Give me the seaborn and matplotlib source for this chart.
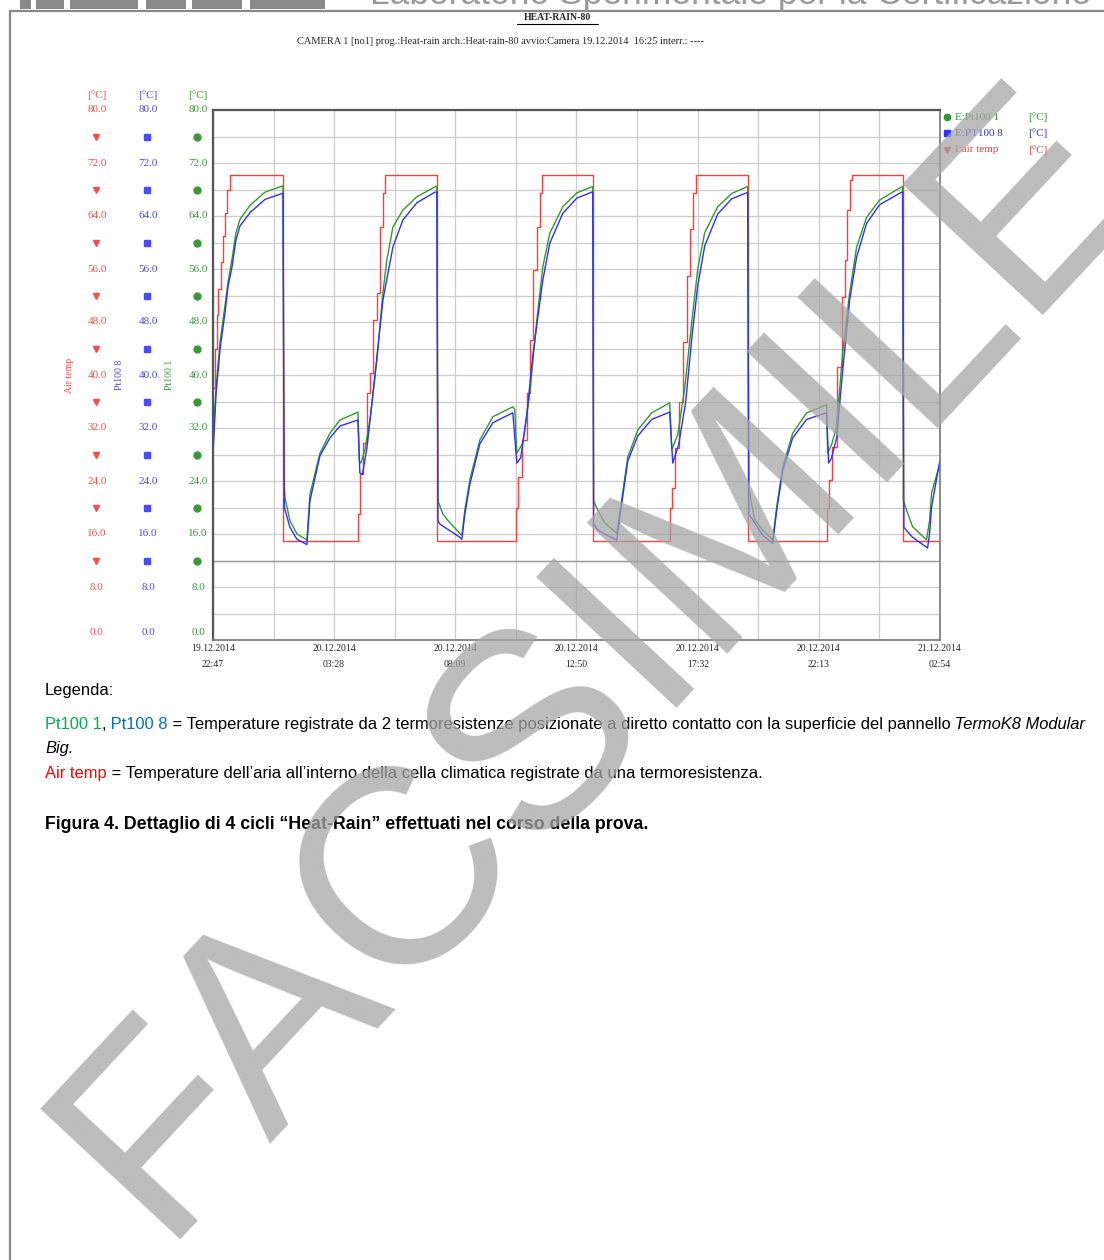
import numpy as np
import pandas as pd
import matplotlib
matplotlib.use('Agg')
import matplotlib.pyplot as plt
import seaborn as sns
from matplotlib import font_manager, transforms
from matplotlib.lines import Line2D
from matplotlib.patches import Rectangle

# --- dati (ore dall'inizio registrazione, gradi C) ---
air_h = [0, 0.077, 0.155, 0.193, 0.309, 0.387, 0.464, 0.541, 0.657, 2.706,
         5.605, 5.682, 5.798, 5.953, 6.068, 6.184, 6.339, 6.455, 6.571, 6.648, 8.658,
         11.712, 11.789, 11.944, 12.137, 12.253, 12.369, 12.523, 12.639, 12.717, 14.688,
         17.664, 17.742, 17.858, 18.012, 18.167, 18.321, 18.437, 18.553, 18.669, 20.679,
         23.732, 23.809, 23.925, 24.118, 24.311, 24.428, 24.505, 24.621, 24.698, 26.670, 28.117]
air_t = [38, 44, 49, 53, 57, 61, 64.4, 68, 70.2, 14.9,
         19, 25, 29.7, 37.3, 40.3, 48.3, 52.4, 62.3, 67.5, 70.2, 14.9,
         20, 24.6, 30.2, 37.3, 45.3, 55.8, 62.3, 67.5, 70.2, 14.9,
         20, 23, 29, 36, 45, 55, 62, 67.5, 70.2, 14.9,
         20, 24.2, 29.1, 41.2, 51.8, 57.4, 64.9, 69.4, 70.2, 14.9, 14.9]

pt1_h = [0, 0.116, 0.271, 0.464, 0.58, 0.734, 0.889, 1.044, 1.43, 2.01, 2.667, 2.706,
         2.744, 2.783, 2.976, 3.247, 3.633, 3.749, 4.136, 4.522, 4.909, 5.605, 5.66, 5.72,
         5.875, 6.068, 6.339, 6.571, 6.725, 6.957, 7.344, 7.885, 8.581, 8.658,
         8.70, 8.890, 9.161, 9.547, 9.624, 9.740, 9.934, 10.320, 10.823, 11.596, 11.673, 11.75,
         11.982, 12.253, 12.523, 12.755, 13.026, 13.528, 14.070, 14.650, 14.688,
         14.72, 14.881, 15.152, 15.616, 15.732, 16.041, 16.428, 16.969, 17.664, 17.742,
         17.974, 18.244, 18.515, 18.747, 19.018, 19.520, 20.061, 20.640, 20.679,
         20.72, 20.756, 20.949, 21.259, 21.645, 21.800, 22.032, 22.418, 22.959, 23.732, 23.770,
         23.925, 24.118, 24.350, 24.621, 24.892, 25.278, 25.781, 26.631, 26.670,
         26.70, 26.824, 27.056, 27.597, 27.713, 27.791, 28.117]
pt1_t = [30, 38, 45, 50.5, 54, 57.5, 61.5, 63.5, 65.6, 67.6, 68.5, 68.5,
         24, 21.5, 18, 16, 15.1, 22, 28.2, 31.2, 33.2, 34.4, 27, 26.7,
         28.7, 33.2, 42.3, 52.4, 57.4, 62.3, 64.9, 66.9, 68.4, 68.5,
         21, 19, 17.7, 16.1, 15.8, 19.6, 24.2, 30.2, 33.7, 35.2, 34.8, 28.2,
         29.7, 37.3, 48.3, 56.3, 61.4, 65.4, 67.5, 68.4, 68.4,
         21, 19.6, 17.7, 16.1, 19.2, 27.6, 31.7, 34.3, 35.8, 28.7,
         31, 38, 48, 56, 61.5, 65.4, 67.4, 68.4, 68.4,
         23, 22.2, 18.1, 16.6, 15.1, 20.1, 26.1, 31.2, 34.3, 35.5, 28.2,
         29.5, 32.2, 43.3, 52.4, 59.3, 63.8, 66.4, 68.4, 68.4,
         21, 19.6, 17.1, 15.1, 18, 22.2, 26.7]

pt8_h = [0, 0.116, 0.271, 0.464, 0.58, 0.734, 0.889, 1.044, 1.43, 2.01, 2.667, 2.706,
         2.76, 2.976, 3.247, 3.633, 3.749, 4.136, 4.522, 4.909, 5.605, 5.68, 5.78,
         5.953, 6.184, 6.571, 6.957, 7.344, 7.885, 8.581, 8.658,
         8.70, 8.774, 9.161, 9.547, 9.624, 9.740, 9.934, 10.320, 10.823, 11.596, 11.75, 11.9,
         12.137, 12.369, 12.755, 13.026, 13.528, 14.070, 14.650, 14.688,
         14.72, 14.881, 15.152, 15.616, 15.732, 16.041, 16.428, 16.969, 17.664, 17.781,
         18.012, 18.283, 18.515, 18.747, 19.018, 19.520, 20.061, 20.640, 20.679,
         20.72, 20.949, 21.259, 21.645, 21.800, 22.032, 22.418, 22.959, 23.732, 23.809,
         23.925, 24.118, 24.350, 24.621, 24.892, 25.278, 25.781, 26.631, 26.670,
         26.72, 27.056, 27.636, 27.713, 27.791, 28.117]
pt8_t = [28, 37, 43.8, 49.4, 53.3, 56.3, 60.4, 62.5, 64.5, 66.5, 67.4, 67.4,
         20, 17, 15.2, 14.4, 21, 27.8, 30.5, 32.3, 33.2, 25.2, 25,
         29, 37, 51.3, 59.3, 63.4, 66, 67.6, 67.6,
         18, 17.5, 16.5, 15.5, 15.2, 19, 23.5, 29.6, 32.8, 34.3, 26.7, 27.5,
         34, 43, 54.3, 59.9, 64.4, 66.7, 67.6, 67.6,
         17.5, 16.6, 16, 15.1, 18.5, 27, 30.8, 33.3, 34.4, 26.7,
         29.5, 36, 45.5, 53.5, 59.5, 64.3, 66.6, 67.5, 67.5,
         19, 17.7, 15.8, 14.6, 19.5, 25.5, 30.5, 33.3, 34.3, 26.7,
         27.5, 30.5, 40.5, 51.3, 57.8, 62.9, 65.7, 67.6, 67.6,
         17, 15.5, 13.9, 16, 20.1, 27.2]

tick_dates = ['19.12.2014', '20.12.2014', '20.12.2014', '20.12.2014', '20.12.2014', '20.12.2014', '21.12.2014']
tick_times = ['22:47', '03:28', '08:09', '12:50', '17:32', '22:13', '02:54']
y_values = [0, 8, 16, 24, 32, 40, 48, 56, 64, 72, 80]
marker_levels = [12, 20, 28, 36, 44, 52, 60, 68, 76]

# --- stile ---
sns.set_style('white')
plt.rcParams['font.family'] = ['Liberation Serif', 'DejaVu Sans']

try:
    font_manager.findfont(font_manager.FontProperties(family='Liberation Sans Narrow'),
                          fallback_to_default=False)
    sans, body_size = 'Liberation Sans Narrow', 14
except ValueError:
    sans, body_size = 'Liberation Sans', 11.9

W, H = 1104, 1260
def fx(x):
    return x / W
def fy(y):
    return 1 - y / H

c_air, c_pt8, c_pt1 = '#ff3b3b', '#2f2fff', '#2f9a2f'

fig = plt.figure(figsize=(W / 100, H / 100), dpi=100)
ax = fig.add_axes([fx(213), fy(640), 727 / W, 530 / H])

sns.lineplot(x=air_h, y=air_t, ax=ax, color=c_air, lw=1.0, sort=False,
             estimator=None, drawstyle='steps-post')
sns.lineplot(x=pt1_h, y=pt1_t, ax=ax, color=c_pt1, lw=1.0, sort=False, estimator=None)
sns.lineplot(x=pt8_h, y=pt8_t, ax=ax, color=c_pt8, lw=1.0, sort=False, estimator=None)

# asse dei tempi
stamps = pd.to_datetime([d + ' ' + t for d, t in zip(tick_dates, tick_times)], format='%d.%m.%Y %H:%M')
tick_h = ((stamps - stamps[0]).total_seconds() / 3600).values
mid_h = (tick_h[:-1] + tick_h[1:]) / 2
ax.set_xlim(tick_h[0], tick_h[-1])
ax.set_ylim(0, 80)
ax.set_xticks(tick_h)
ax.set_xticks(mid_h, minor=True)
ax.set_xticklabels([d + '\n' + t for d, t in zip(tick_dates, tick_times)],
                   fontsize=7, linespacing=1.95)
ax.set_yticks(y_values)
ax.set_yticks(marker_levels + [4], minor=True)
ax.tick_params(axis='y', which='major', direction='in', length=14, width=1.2, color='#555555', labelleft=False)
ax.tick_params(axis='y', which='minor', direction='in', length=6, width=1.2, color='#555555')
ax.tick_params(axis='x', which='both', direction='in', length=5, width=1, color='#555555', pad=3)
ax.grid(True, which='both', color='#cccccc', lw=0.9)
ax.set_axisbelow(True)
ax.axhline(12, color='#999999', lw=1.0, zorder=1)
for side in ['top', 'left']:
    ax.spines[side].set_color('#555555')
    ax.spines[side].set_linewidth(1.6)
for side in ['right', 'bottom']:
    ax.spines[side].set_color('#777777')
    ax.spines[side].set_linewidth(1.2)
ax.set_xlabel('')
ax.set_ylabel('')

# colonne delle scale a sinistra
trans = transforms.blended_transform_factory(fig.transFigure, ax.transData)
scales = [(97, '#ff4a4a', 'v', 4, 'Air temp', 70),
          (148, '#4a4aff', 's', 4, 'Pt100 8', 120),
          (198, '#3a9a3a', 'o', 5, 'Pt100 1', 170)]
for col_x, col, mk, ms, name, name_x in scales:
    for v in y_values:
        ax.text(fx(col_x), v + (1.2 if v == 0 else 0), f'{v:.1f}', transform=trans,
                ha='center', va='center', color=col, fontsize=8, clip_on=False)
    ax.plot([fx(col_x - 1)] * len(marker_levels), marker_levels, transform=trans,
            ls='none', marker=mk, ms=ms, color=col, clip_on=False)
    fig.text(fx(col_x), fy(95), '[°C]', ha='center', va='center', color=col, fontsize=8)
    fig.text(fx(name_x), fy(375), name, rotation=90, ha='center', va='center', color=col, fontsize=7)

# legenda a destra
legend_rows = [(117, '#2f9a2f', 'o', 'E:Pt100 1'),
               (133, '#2f2fff', 's', 'E:PT100 8'),
               (150, '#ff3b3b', 'v', 'I:air temp')]
for ly, col, mk, lab in legend_rows:
    fig.add_artist(Line2D([fx(947)], [fy(ly)], transform=fig.transFigure, marker=mk,
                          ms=4.5, color=col, ls='none'))
    fig.text(fx(955), fy(ly), lab, ha='left', va='center', color=col, fontsize=8)
    fig.text(fx(1038), fy(ly), '[°C]', ha='center', va='center', color=col, fontsize=8)

# intestazione
fig.text(fx(557), fy(18), 'HEAT-RAIN-80', ha='center', va='center', fontsize=7,
         fontweight='bold')
fig.add_artist(Line2D([fx(517), fx(598)], [fy(24), fy(24)], transform=fig.transFigure,
                      color='black', lw=0.8))
fig.text(fx(501), fy(41), 'CAMERA 1 [no1] prog.:Heat-rain arch.:Heat-rain-80 avvio:Camera 19.12.2014  16:25 interr.: ----',
         ha='center', va='center', fontsize=7.5)

fig.text(fx(370), fy(4), 'Laboratorio Sperimentale per la Certificazione', ha='left',
         va='baseline', fontsize=25.5, color='#9a9a9a', family='Liberation Sans')
for x0, x1 in [(20, 31), (36, 64), (70, 138), (146, 186), (192, 242), (250, 325)]:
    fig.add_artist(Rectangle((fx(x0), fy(9)), (x1 - x0) / W, 9 / H, transform=fig.transFigure,
                             color='#8a8a8a', lw=0))
fig.add_artist(Line2D([fx(10), fx(1104)], [fy(11), fy(11)], transform=fig.transFigure,
                      color='#888888', lw=1.6))
fig.add_artist(Line2D([fx(10), fx(10)], [fy(11), fy(1260)], transform=fig.transFigure,
                      color='#888888', lw=1.6))

# testo di commento sotto il grafico
def chain(parts, x, y, size, weight='normal'):
    txt, col, style = parts[0]
    t = fig.text(fx(x), fy(y), txt, color=col, style=style, fontsize=size, family=sans,
                 fontweight=weight, ha='left', va='bottom')
    for txt, col, style in parts[1:]:
        t = fig.add_artist(matplotlib.text.Annotation(
            txt, xy=(1, 0), xycoords=t, color=col, style=style, fontsize=size,
            family=sans, fontweight=weight, ha='left', va='bottom'))
    return t

chain([('Legenda:', 'black', 'normal')], 45, 698, body_size)
chain([('Pt100 1', '#00b050', 'normal'), (',', 'black', 'normal'), (' Pt100 8', '#0070c0', 'normal'),
       (' = Temperature registrate da 2 termoresistenze posizionate a diretto contatto con la superficie del pannello',
        'black', 'normal'),
       (' TermoK8 Modular', 'black', 'italic')], 45, 732, body_size)
chain([('Big.', 'black', 'italic')], 45, 756, body_size)
chain([('Air temp', '#ff0000', 'normal'),
       (' = Temperature dell\u2019aria all\u2019interno della cella climatica registrate da una termoresistenza.',
        'black', 'normal')], 45, 781, body_size)
chain([('Figura 4. Dettaglio di 4 cicli \u201cHeat-Rain\u201d effettuati nel corso della prova.', 'black', 'normal')],
      45, 833, body_size + 0.9, weight='bold')

# filigrana
fig.text(fx(600), fy(660), 'FACSIMILE', rotation=47, ha='center', va='center', fontsize=200,
         color='#a6a6a6', alpha=0.75, family='Liberation Sans', zorder=10)

fig.savefig('out.png', dpi=100)
